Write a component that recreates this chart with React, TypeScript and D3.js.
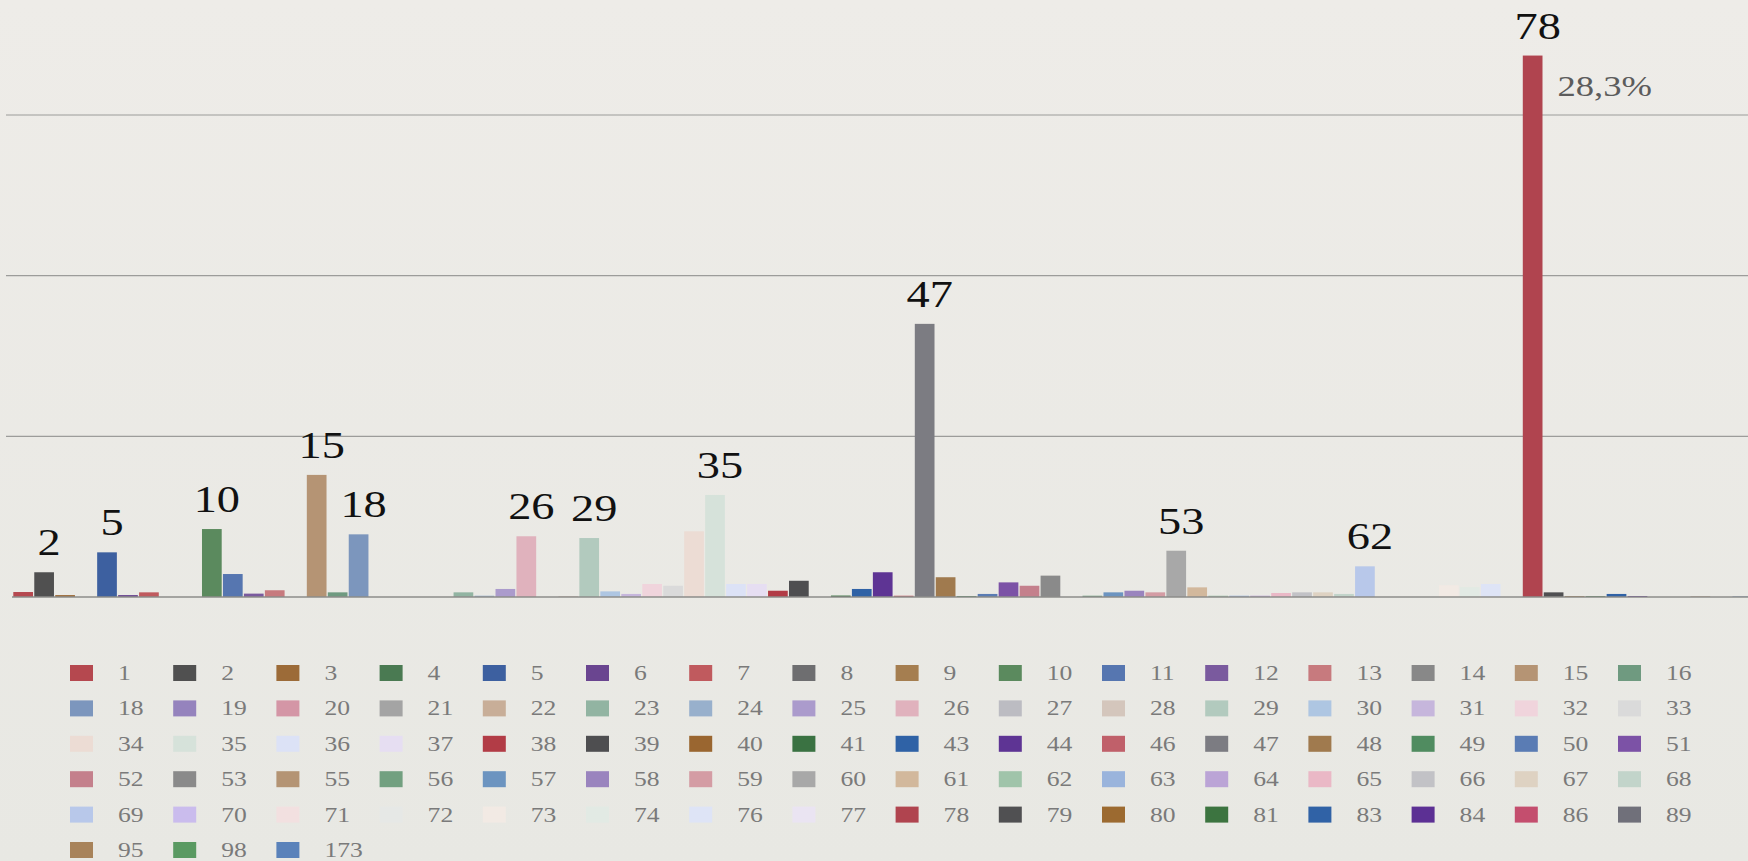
import React from "react";
import * as d3 from "d3";

const categories = [
  "1","2","3","4","5","6","7","8","9","10","11","12","13","14","15","16",
  "18","19","20","21","22","23","24","25","26","27","28","29","30","31","32","33",
  "34","35","36","37","38","39","40","41","43","44","46","47","48","49","50","51",
  "52","53","55","56","57","58","59","60","61","62","63","64","65","66","67","68",
  "69","70","71","72","73","74","76","77","78","79","80","81","83","84","86","89",
  "95","98","173",
];

const values = [
  0.31, 1.54, 0.12, 0, 2.78, 0.12, 0.29, 0, 0, 4.23, 1.43, 0.21, 0.42, 0, 7.6, 0.29,
  3.9, 0, 0, 0, 0, 0.29, 0.08, 0.5, 3.78, 0, 0.06, 3.67, 0.35, 0.19, 0.81, 0.7,
  4.09, 6.35, 0.81, 0.81, 0.39, 1.01, 0, 0.09, 0.5, 1.54, 0.08, 17.0, 1.23, 0.06, 0.19, 0.91,
  0.7, 1.33, 0, 0.08, 0.29, 0.39, 0.29, 2.88, 0.6, 0.08, 0.08, 0.08, 0.25, 0.29, 0.29, 0.19,
  1.91, 0, 0, 0, 0.73, 0.62, 0.81, 0, 33.7, 0.29, 0.05, 0.05, 0.19, 0.06, 0, 0,
  0.03, 0, 0.03,
];

const colors = [
  "#b5484f","#505050","#9c6b38","#4a7a52","#3d60a0","#6a4590","#c05a5e","#6e6e70",
  "#a57e50","#5b8a5e","#5676b0","#7a5a9e","#c77a7e","#888888","#b59474","#6f9a80",
  "#7c96bd","#9583bd","#d496a6","#a4a4a4","#c8ae98","#92b4a2","#98b0cc","#ab9bcc",
  "#e0b2bd","#bcbcc2","#d4c6bc","#b2cabe","#aec6e2","#c6b6dc","#f0d4dc","#dadada",
  "#ecdcd4","#d6e2da","#dce2f6","#e6def2","#b23c46","#4e4e50","#9a6630","#3a7242",
  "#2f62a6","#5e3494","#c0606a","#7c7c82","#a07a4e","#508c60","#5a7cb4","#7c52a6",
  "#c4808c","#8a8a8a","#b49474","#72a080","#6c94c0","#9a84be","#d49ca4","#a8a8a8",
  "#d2b89c","#a0c4aa","#9ab4dc","#bba4d6","#eab8c6","#c2c2c6","#ded2c2","#c2d4ca",
  "#b8c8ea","#cabced","#f2e0e0","#e6e8e6","#f2eae4","#e2eae4","#dee4f6","#eae4f2",
  "#b0444f","#505052","#9c6a30","#3c7440","#3062a6","#5c3094","#c44e6e","#70707a",
  "#a8835a","#5a9a62","#5a82ba",
];

const annotationCats = ["2","5","10","15","18","26","29","35","47","60","69","78"];
const annotationTexts = ["2","5","10","15","18","26","29","35","47","53","62","78"];

const shareCat = "78";
const shareText = "28,3%";

const gridTicks = [10, 20, 30];

const W = 1748;
const H = 861;
const STRETCH = 1.22;

export default function App() {
  const x = d3
    .scaleBand<string>()
    .domain(categories)
    .range([13.3, 13.3 + categories.length * 20.95])
    .paddingInner(0.06)
    .paddingOuter(0);
  const y = d3.scaleLinear().domain([0, 30]).range([597, 115]);

  const legendCols = 16;
  const legendX0 = 70;
  const legendStep = 103.2;
  const legendY0 = 673;
  const legendRowStep = 35.4;

  const shareX = (x(shareCat) ?? 0) + x.bandwidth() + 15;
  const shareY = y(values[categories.indexOf(shareCat)]) + 40;

  return (
    <svg
      width={W}
      height={H}
      style={{ position: "absolute", left: 0, top: 0, display: "block" }}
      fontFamily="'Liberation Serif', 'Times New Roman', serif"
    >
      <defs>
        <linearGradient id="bg" x1="0" y1="0" x2="0" y2="1">
          <stop offset="0" stopColor="#eeece8" />
          <stop offset="1" stopColor="#e8e8e3" />
        </linearGradient>
      </defs>
      <rect x={0} y={0} width={W} height={H} fill="url(#bg)" />

      {gridTicks.map((t) => (
        <line
          key={t}
          x1={6}
          x2={W}
          y1={y(t)}
          y2={y(t)}
          stroke="#9c9c9a"
          strokeWidth={1.2}
        />
      ))}

      {categories.map((c, i) => {
        const v = values[i];
        if (v <= 0) return null;
        const top = y(v);
        return (
          <rect
            key={c}
            x={x(c)}
            y={top}
            width={x.bandwidth()}
            height={y(0) - top}
            fill={colors[i]}
          />
        );
      })}

      <line x1={12} x2={W} y1={y(0)} y2={y(0)} stroke="#8c8c8a" strokeWidth={1.5} />

      {annotationCats.map((c, k) => {
        const i = categories.indexOf(c);
        const cx = (x(c) ?? 0) + x.bandwidth() / 2 + 5;
        const by = y(values[i]) - 17;
        return (
          <text
            key={c}
            transform={`translate(${cx},${by}) scale(${STRETCH},1)`}
            textAnchor="middle"
            fontSize={38}
            fill="#111"
          >
            {annotationTexts[k]}
          </text>
        );
      })}

      <text
        transform={`translate(${shareX},${shareY}) scale(${STRETCH},1)`}
        fontSize={30}
        fill="#5c5c5c"
      >
        {shareText}
      </text>

      {categories.map((c, i) => {
        const col = i % legendCols;
        const row = Math.floor(i / legendCols);
        const sx = legendX0 + col * legendStep;
        const cy = legendY0 + row * legendRowStep;
        return (
          <g key={"lg" + c}>
            <rect x={sx} y={cy - 8} width={23} height={16} fill={colors[i]} />
            <text
              transform={`translate(${sx + 48},${cy + 7}) scale(${STRETCH},1)`}
              fontSize={21}
              fill="#7a7a7a"
            >
              {c}
            </text>
          </g>
        );
      })}
    </svg>
  );
}
